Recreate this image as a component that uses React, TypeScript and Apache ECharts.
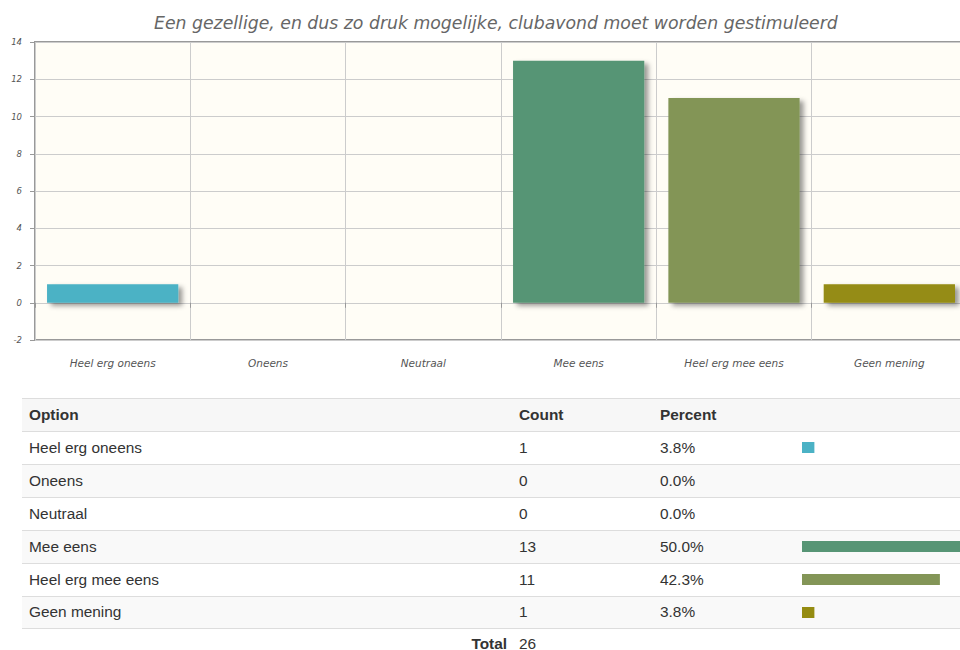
import React, { useEffect, useRef } from "react";
import * as echarts from "echarts";

const TITLE = "Een gezellige, en dus zo druk mogelijke, clubavond moet worden gestimuleerd";
const categories = ["Heel erg oneens", "Oneens", "Neutraal", "Mee eens", "Heel erg mee eens", "Geen mening"];
const counts = [1, 0, 0, 13, 11, 1];
const percents = [3.8, 0.0, 0.0, 50.0, 42.3, 3.8];
const colors = ["#4bb2c5", "#EAA228", "#c5b47f", "#579575", "#839557", "#958c12"];
const total = 26;
const yTicks = { min: -2, max: 14, interval: 2 };

const ROW_TOP = 431;
const ROW_H = 33;
const CHART_W = 1150;

export default function App() {
  const ref = useRef<HTMLDivElement>(null);

  useEffect(() => {
    document.body.style.margin = "0";
    document.body.style.overflow = "hidden";
    const chart = echarts.init(ref.current!, undefined, { renderer: "svg" });
    chart.setOption({
      animation: false,
      backgroundColor: "transparent",
      title: {
        text: TITLE,
        left: 149,
        top: 9,
        textStyle: {
          fontFamily: "DejaVu Sans",
          fontStyle: "italic",
          fontWeight: "normal",
          fontSize: 17.3,
          color: "#666",
        },
      },
      grid: [
        {
          left: 35,
          top: 42,
          right: CHART_W - 967,
          bottom: 310,
          show: true,
          backgroundColor: "#fffdf6",
          borderColor: "#999",
          borderWidth: 2,
          containLabel: false,
        },
        {
          left: 802,
          top: ROW_TOP,
          width: 326,
          height: ROW_H * categories.length,
          show: false,
        },
      ],
      xAxis: [
        {
          type: "category",
          gridIndex: 0,
          data: categories,
          axisLine: { show: false },
          axisTick: { show: true, length: 5, lineStyle: { color: "#999", width: 1 } },
          splitLine: { show: true, lineStyle: { color: "#cccccc", width: 1 } },
          axisLabel: {
            margin: 17,
            fontFamily: "DejaVu Sans",
            fontStyle: "italic",
            fontSize: 10.5,
            color: "#555",
          },
        },
        {
          type: "value",
          gridIndex: 1,
          min: 0,
          max: 100,
          show: false,
        },
      ],
      yAxis: [
        {
          type: "value",
          gridIndex: 0,
          min: yTicks.min,
          max: yTicks.max,
          interval: yTicks.interval,
          axisLine: { show: false },
          axisTick: { show: true, length: 5, lineStyle: { color: "#999", width: 1 } },
          splitLine: { show: true, lineStyle: { color: "#cccccc", width: 1 } },
          axisLabel: {
            margin: 13,
            fontFamily: "DejaVu Sans",
            fontStyle: "italic",
            fontSize: 8.5,
            color: "#555",
          },
        },
        {
          type: "category",
          gridIndex: 1,
          data: categories,
          inverse: true,
          show: false,
        },
      ],
      series: [
        {
          type: "bar",
          xAxisIndex: 0,
          yAxisIndex: 0,
          barCategoryGap: "15.5%",
          data: counts.map((v, i) => ({
            value: v,
            itemStyle: {
              color: colors[i],
              shadowColor: "rgba(0,0,0,0.4)",
              shadowBlur: 5,
              shadowOffsetX: 4,
              shadowOffsetY: 3,
            },
          })),
        },
        {
          type: "bar",
          xAxisIndex: 1,
          yAxisIndex: 1,
          barWidth: 11,
          data: percents.map((v, i) => ({ value: v, itemStyle: { color: colors[i] } })),
        },
      ],
    });
    return () => chart.dispose();
  }, []);

  const cellBase: React.CSSProperties = {
    boxSizing: "border-box",
    padding: "0 7px",
    display: "flex",
    alignItems: "center",
  };
  const colW = [490, 141, 142, 327];

  const row = (cells: React.ReactNode[], opts: { bg: string; bold?: boolean; top: number; borderBottom?: boolean }) => (
    <div
      style={{
        position: "absolute",
        left: 22,
        top: opts.top,
        width: 1100,
        height: ROW_H,
        boxSizing: "border-box",
        borderTop: "1px solid #dddddd",
        borderBottom: opts.borderBottom ? "1px solid #dddddd" : undefined,
        background: opts.bg,
        display: "flex",
        fontWeight: opts.bold ? "bold" : "normal",
        paddingBottom: 1,
      }}
    >
      {cells.map((c, i) => (
        <div key={i} style={{ ...cellBase, width: colW[i] }}>
          {c}
        </div>
      ))}
    </div>
  );

  return (
    <div
      style={{
        position: "fixed",
        left: 0,
        top: 0,
        width: 960,
        height: 650,
        overflow: "hidden",
        background: "#fff",
        fontFamily: '"Liberation Sans", Arial, sans-serif',
        fontSize: 15.4,
        color: "#333",
      }}
    >
      {row(["Option", "Count", "Percent", ""], { bg: "#f7f7f7", bold: true, top: ROW_TOP - ROW_H })}
      {categories.map((c, i) =>
        row([c, String(counts[i]), percents[i].toFixed(1) + "%", ""], {
          bg: i % 2 === 0 ? "#ffffff" : "#f9f9f9",
          top: ROW_TOP + i * ROW_H,
          borderBottom: i === categories.length - 1,
        })
      )}
      <div
        style={{
          position: "absolute",
          left: 22,
          top: ROW_TOP + categories.length * ROW_H,
          width: 1100,
          height: 29,
          display: "flex",
        }}
      >
        <div style={{ ...cellBase, width: colW[0], justifyContent: "flex-end", fontWeight: "bold", paddingRight: 5 }}>Total</div>
        <div style={{ ...cellBase, width: colW[1] }}>{total}</div>
      </div>
      <div
        ref={ref}
        style={{ position: "absolute", left: 0, top: 0, width: CHART_W, height: 650, pointerEvents: "none" }}
      />
    </div>
  );
}
